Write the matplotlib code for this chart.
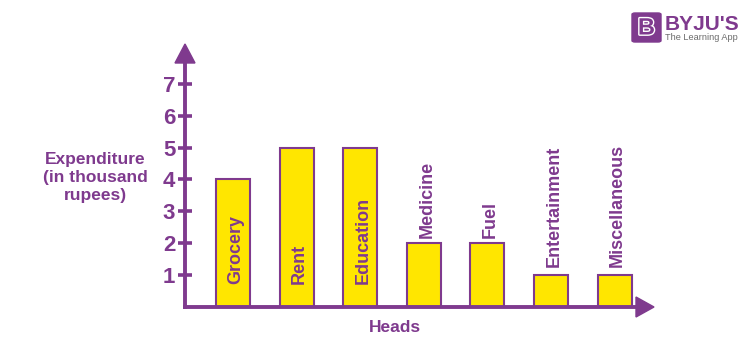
import matplotlib
matplotlib.use("Agg")
import matplotlib.pyplot as plt
import matplotlib.patheffects as pe
from matplotlib.patches import FancyBboxPatch, Polygon

categories = ["Grocery", "Rent", "Education", "Medicine", "Fuel", "Entertainment", "Miscellaneous"]
values = [4, 5, 5, 2, 2, 1, 1]
y_ticks = [1, 2, 3, 4, 5, 6, 7]
x_title = "Heads"
y_title = "Expenditure\n(in thousand\nrupees)"

PURPLE = "#7F3A8E"
YELLOW = "#FFE600"
plt.rcParams["font.family"] = ["Liberation Sans", "DejaVu Sans"]

W, H = 750, 364
fig = plt.figure(figsize=(W / 100, H / 100), dpi=100, facecolor="white")

# axes: origin at pixel (185, 307), 63.6 px per category, 31.9 px per unit
L, B, R, T = 185, 307, 642, 55
ax = fig.add_axes([L / W, 1 - B / H, (R - L) / W, (B - T) / H])
ax.set_xlim((L - 233) / 63.6, (R - 233) / 63.6)
ax.set_ylim(0, (B - T) / 31.9)
ax.patch.set_alpha(0)
for s in ("top", "right"):
    ax.spines[s].set_visible(False)
for s in ("left", "bottom"):
    ax.spines[s].set_color(PURPLE)
    ax.spines[s].set_linewidth(2.8)
    ax.spines[s].set_capstyle("projecting")

xs = list(range(len(categories)))
ax.bar(xs, values, width=34 / 63.6, color=YELLOW, edgecolor=PURPLE, linewidth=1.5, zorder=2)

ax.set_xticks([])
ax.set_yticks(y_ticks)
ax.set_yticklabels([str(v) for v in y_ticks], fontsize=16, fontweight="bold", color=PURPLE)
ax.tick_params(axis="y", direction="inout", length=10, width=2.6, color=PURPLE, pad=2)

for x, v, name in zip(xs, values, categories):
    if v >= 4:
        anchor, dy = 0, 23
    elif v == 2:
        anchor, dy = v, 5
    else:
        anchor, dy = v, 8
    ax.annotate(name, (x, anchor), xytext=(3, dy), textcoords="offset pixels", rotation=90,
                ha="center", va="bottom", fontsize=13, fontweight="bold", color=PURPLE, zorder=3)

def px(x, y):
    return (x / W, 1 - y / H)
fig.add_artist(Polygon([px(185, 44), px(175, 63), px(195, 63)], closed=True, color=PURPLE,
                       transform=fig.transFigure, zorder=5))
fig.add_artist(Polygon([px(654, 307), px(636, 297), px(636, 317)], closed=True, color=PURPLE,
                       transform=fig.transFigure, zorder=5))

fig.text(95 / W, 1 - 177 / H, y_title, ha="center", va="center", fontsize=12.5, fontweight="bold",
         color=PURPLE, linespacing=1.25)
fig.text(395 / W, 1 - 327 / H, x_title, ha="center", va="center", fontsize=12.5, fontweight="bold",
         color=PURPLE)

# logo
fig.add_artist(FancyBboxPatch(px(632, 42), 29 / W, 29 / H, boxstyle="round,pad=0,rounding_size=0.004",
                              transform=fig.transFigure, facecolor=PURPLE, edgecolor=PURPLE))
fig.text(646.5 / W, 1 - 28 / H, "B", ha="center", va="center", fontsize=17, fontweight="bold", color=PURPLE,
         path_effects=[pe.withStroke(linewidth=2, foreground="white")])
fig.text(665 / W, 1 - 24 / H, "BYJU'S", ha="left", va="center", fontsize=15, fontweight="bold", color=PURPLE)
fig.text(665 / W, 1 - 38 / H, "The Learning App", ha="left", va="center", fontsize=6.6, color="#6b6b6b")

fig.savefig("out.png", dpi=100)
